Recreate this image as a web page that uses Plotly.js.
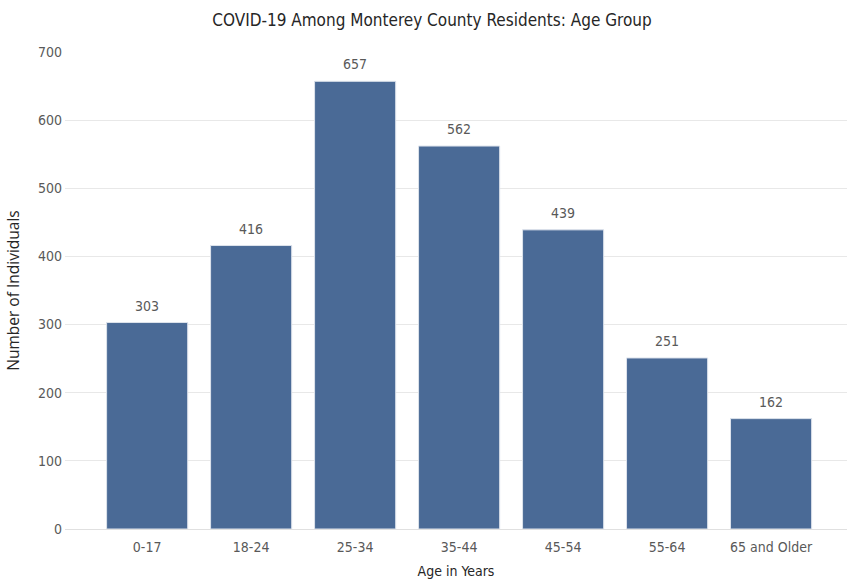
<!DOCTYPE html>
<html>
<head>
<meta charset="utf-8">
<script src="https://cdn.plot.ly/plotly-3.0.1.min.js"></script>
<style>html,body{margin:0;padding:0;background:#fff;}#chart{width:847px;height:582px;}</style>
</head>
<body>
<div id="chart"></div>
<script>
const categories = ["0-17", "18-24", "25-34", "35-44", "45-54", "55-64", "65 and Older"];
const values = [303, 416, 657, 562, 439, 251, 162];
const yTicks = [0, 100, 200, 300, 400, 500, 600, 700];

const narrow = '"Liberation Sans Narrow", "DejaVu Sans Condensed", "Roboto Condensed", sans-serif';

const trace = {
  type: 'bar',
  x: categories,
  y: values,
  marker: {color: '#4A6A96', line: {color: '#dde3ec', width: 1}},
  hoverinfo: 'x+y'
};

const valueLabels = categories.map((c, i) => ({
  x: c, y: values[i], text: String(values[i]),
  xref: 'x', yref: 'y', showarrow: false,
  yanchor: 'bottom', yshift: 7,
  font: {family: narrow, size: 14, color: '#595959'}
}));

const layout = {
  width: 847, height: 582,
  margin: {l: 65, r: 0, t: 52, b: 53},
  paper_bgcolor: '#ffffff', plot_bgcolor: '#ffffff',
  bargap: 0.22,
  showlegend: false,
  annotations: valueLabels,
  title: {
    text: 'COVID-19 Among Monterey County Residents: Age Group',
    font: {family: narrow, size: 17, color: '#262626'},
    x: 0.51, xanchor: 'center', y: 0.965, yanchor: 'middle'
  },
  xaxis: {
    type: 'category',
    range: [-0.79, 6.73],
    showgrid: false, zeroline: false, showline: false,
    ticks: '', ticklabelstandoff: 8,
    tickfont: {family: narrow, size: 14, color: '#595959'},
    title: {text: 'Age in Years', font: {family: narrow, size: 14, color: '#262626'}, standoff: 12}
  },
  yaxis: {
    range: [0, 700],
    tickvals: yTicks,
    ticktext: yTicks.map(String),
    showgrid: true, gridcolor: '#e8e8e8', gridwidth: 1,
    zeroline: true, zerolinecolor: '#e0e0e0', zerolinewidth: 1,
    showline: false, ticks: '', ticklabelstandoff: 2,
    tickfont: {family: narrow, size: 14, color: '#595959'},
    title: {text: 'Number of Individuals', font: {family: '"Open Sans", sans-serif', size: 15.5, color: '#262626'}, standoff: 14}
  }
};

Plotly.newPlot('chart', [trace], layout, {displayModeBar: false, staticPlot: true});
</script>
</body>
</html>
